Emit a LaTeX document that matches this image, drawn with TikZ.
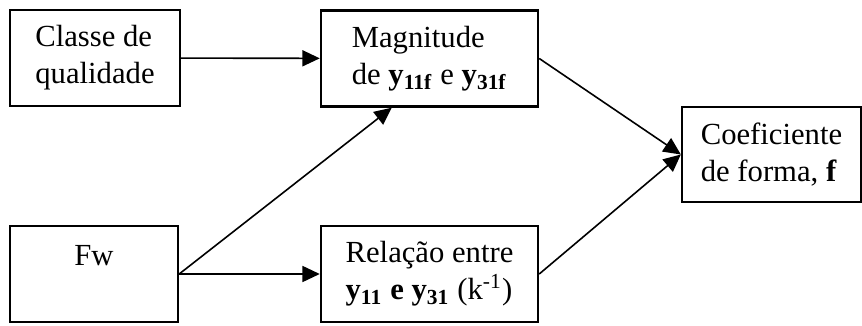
\documentclass[tikz,border=0pt]{standalone}
\usepackage{fontspec}
\setmainfont{Liberation Serif}
\usetikzlibrary{positioning, arrows.meta}

\begin{document}
\begin{tikzpicture}[
  x=0.375pt, y=-0.375pt,
  box/.style={draw, line width=0.9pt, inner sep=0pt,
              minimum height=36pt, align=left,
              font=\fontsize{11.5}{13.9}\selectfont},
  arr/.style={-{Triangle[length=6.5pt,width=6pt]}, line width=0.6pt},
]
  \useasboundingbox (0,0) rectangle (862,326);

  % Inputs
  \node[box, minimum width=63.75pt] (classe) at (95,58) {Classe de\\qualidade};
  \node[box, minimum width=63pt, align=center] (fw) at (94,274) {Fw\\\mbox{}};

  % Intermediate quantities
  \node[box, minimum width=81.4pt] (magn) at (429.5,58.5)
    {Magnitude\\de \textbf{y}\textsubscript{\textbf{11f}} e \textbf{y}\textsubscript{\textbf{31f}}};
  \node[box, minimum width=81.4pt] (relacao) at (429.5,274)
    {Relação entre\\\textbf{y}\textsubscript{\textbf{11}} \textbf{e} \textbf{y}\textsubscript{\textbf{31}} (k\textsuperscript{-1})};

  % Result
  \node[box, minimum width=67.1pt, minimum height=35.6pt] (coef) at (771.5,154.5)
    {Coeficiente\\de forma, \textbf{f}};

  % Arrows
  \draw[arr] (classe) -- (magn);
  \draw[arr] (fw.east) -- (relacao.west);
  \draw[arr] (fw.east) -- ([xshift=27pt]magn.south west);
  \draw[arr] (magn.east) -- (coef.west);
  \draw[arr] (relacao.east) -- (coef.west);
\end{tikzpicture}
\end{document}
